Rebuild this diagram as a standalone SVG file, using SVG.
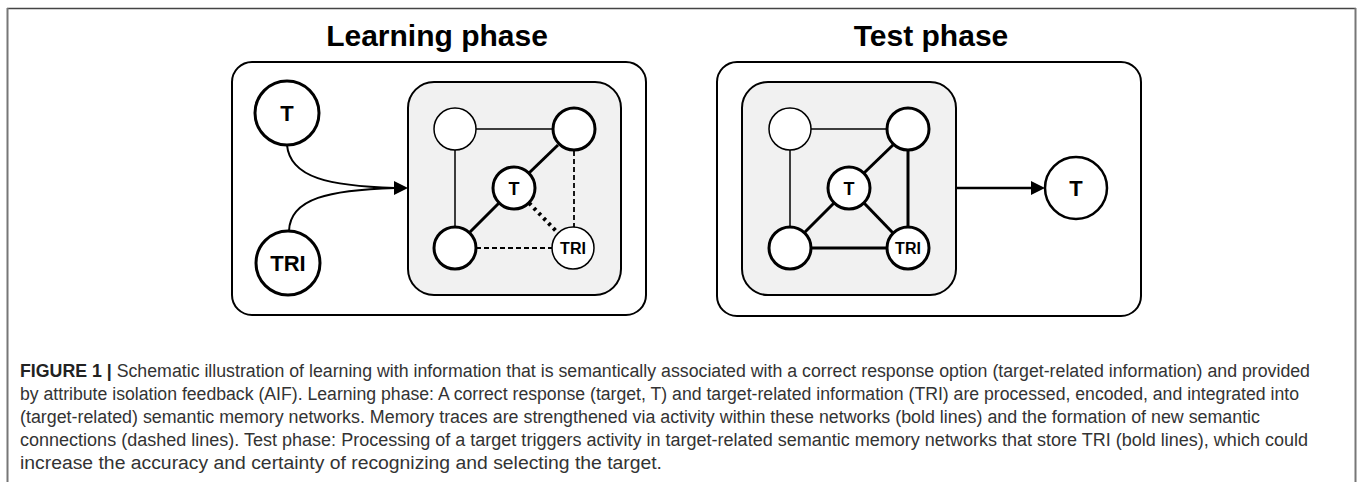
<svg xmlns="http://www.w3.org/2000/svg" width="1357" height="482" viewBox="0 0 1357 482">
<style>
.title{font-family:"Liberation Sans",Arial,sans-serif;font-weight:bold;font-size:30px;fill:#000;text-anchor:middle}
.box{fill:#fff;stroke:#000;stroke-width:2}
.inner{fill:#f1f1f1;stroke:#000;stroke-width:2}
.n{fill:#fff;stroke:#000}
.thin{stroke-width:1.5}
.thick{stroke-width:3}
.lbl{font-family:"Liberation Sans",Arial,sans-serif;font-weight:bold;fill:#000;text-anchor:middle}
.e{stroke:#000;fill:none}
.cap{font-family:"Liberation Sans",Arial,sans-serif;font-size:18px;fill:#333}
</style>
<rect width="1357" height="482" fill="#fff"/>
<g id="frame">
<line x1="7" y1="8.5" x2="1356" y2="8.5" stroke="#444" stroke-width="1.5"/>
<line x1="7.5" y1="8" x2="7.5" y2="482" stroke="#777" stroke-width="2"/>
<line x1="1355.5" y1="8" x2="1355.5" y2="482" stroke="#777" stroke-width="2"/>
</g>
<g id="learning-phase">
<text class="title" x="437" y="46">Learning phase</text>
<rect class="box" x="232" y="62" width="414" height="253" rx="20"/>
<rect class="inner" x="408" y="82" width="213" height="213" rx="26"/>
</g>
<g id="test-phase">
<text class="title" x="931" y="46">Test phase</text>
<rect class="box" x="717" y="62" width="424" height="254" rx="20"/>
<rect class="inner" x="742" y="82" width="214" height="213" rx="26"/>
</g>
<g id="connectors">
<path class="e" stroke-width="2" d="M287,145 C290,178 330,186 395,188"/>
<path class="e" stroke-width="2" d="M289,231 C290,198 330,190 395,188"/>
<path d="M394,181 L408,188 L394,195 z" fill="#000"/>
<line class="e" stroke-width="1.5" x1="476" y1="129" x2="552" y2="129"/>
<line class="e" stroke-width="1.5" x1="455" y1="150" x2="455" y2="227"/>
<line class="e" stroke-width="3" x1="558" y1="145" x2="529" y2="173"/>
<line class="e" stroke-width="3" x1="499" y1="203" x2="470" y2="232"/>
<line class="e" stroke-width="4" stroke-dasharray="3 4" x1="529" y1="203" x2="558" y2="233"/>
<line class="e" stroke-width="1.8" stroke-dasharray="5 3" x1="574" y1="151" x2="574" y2="227"/>
<line class="e" stroke-width="1.8" stroke-dasharray="5 3" x1="476" y1="248" x2="552" y2="248"/>
<line class="e" stroke-width="1.5" x1="811" y1="129" x2="887" y2="129"/>
<line class="e" stroke-width="1.5" x1="790" y1="150" x2="790" y2="227"/>
<line class="e" stroke-width="3" x1="893" y1="145" x2="864" y2="173"/>
<line class="e" stroke-width="3" x1="834" y1="203" x2="805" y2="232"/>
<line class="e" stroke-width="3" x1="864" y1="203" x2="893" y2="233"/>
<line class="e" stroke-width="3" x1="908" y1="151" x2="908" y2="227"/>
<line class="e" stroke-width="3" x1="811" y1="248" x2="887" y2="248"/>
<line class="e" stroke-width="2.5" x1="956" y1="188" x2="1032" y2="188"/>
<path d="M1031,181 L1045,188 L1031,195 z" fill="#000"/>
</g>
<g id="l-T">
<circle class="n thick" cx="287" cy="113" r="32"/>
<text class="lbl" x="287" y="121" font-size="22">T</text>
</g>
<g id="l-TRI">
<circle class="n thick" cx="288" cy="263" r="32"/>
<text class="lbl" x="288" y="271" font-size="22">TRI</text>
</g>
<g id="l-tl"><circle class="n thin" cx="455" cy="129" r="21"/></g>
<g id="l-tr"><circle class="n thick" cx="574" cy="129" r="21"/></g>
<g id="l-c">
<circle class="n thick" cx="514" cy="188" r="21"/>
<text class="lbl" x="514" y="194.5" font-size="18">T</text>
</g>
<g id="l-bl"><circle class="n thick" cx="455" cy="248" r="21"/></g>
<g id="l-tri">
<circle class="n thin" cx="573" cy="248" r="21"/>
<text class="lbl" x="573" y="254" font-size="16">TRI</text>
</g>
<g id="t-tl"><circle class="n thin" cx="790" cy="129" r="21"/></g>
<g id="t-tr"><circle class="n thick" cx="908" cy="129" r="21"/></g>
<g id="t-c">
<circle class="n thick" cx="849" cy="188" r="21"/>
<text class="lbl" x="849" y="194.5" font-size="18">T</text>
</g>
<g id="t-bl"><circle class="n thick" cx="790" cy="248" r="21"/></g>
<g id="t-tri">
<circle class="n thick" cx="908" cy="248" r="21"/>
<text class="lbl" x="908" y="254" font-size="16">TRI</text>
</g>
<g id="t-out">
<circle class="n" stroke-width="2.5" cx="1076" cy="188" r="31"/>
<text class="lbl" x="1076" y="196" font-size="22">T</text>
</g>
<g id="caption">
<text class="cap" x="20" y="377" textLength="1290" lengthAdjust="spacingAndGlyphs"><tspan font-weight="bold" fill="#222">FIGURE 1 |</tspan> Schematic illustration of learning with information that is semantically associated with a correct response option (target-related information) and provided</text>
<text class="cap" x="20" y="400" textLength="1279" lengthAdjust="spacingAndGlyphs">by attribute isolation feedback (AIF). Learning phase: A correct response (target, T) and target-related information (TRI) are processed, encoded, and integrated into</text>
<text class="cap" x="20" y="423" textLength="1240" lengthAdjust="spacingAndGlyphs">(target-related) semantic memory networks. Memory traces are strengthened via activity within these networks (bold lines) and the formation of new semantic</text>
<text class="cap" x="20" y="446" textLength="1288" lengthAdjust="spacingAndGlyphs">connections (dashed lines). Test phase: Processing of a target triggers activity in target-related semantic memory networks that store TRI (bold lines), which could</text>
<text class="cap" x="20" y="469" textLength="642" lengthAdjust="spacingAndGlyphs">increase the accuracy and certainty of recognizing and selecting the target.</text>
</g>
</svg>
